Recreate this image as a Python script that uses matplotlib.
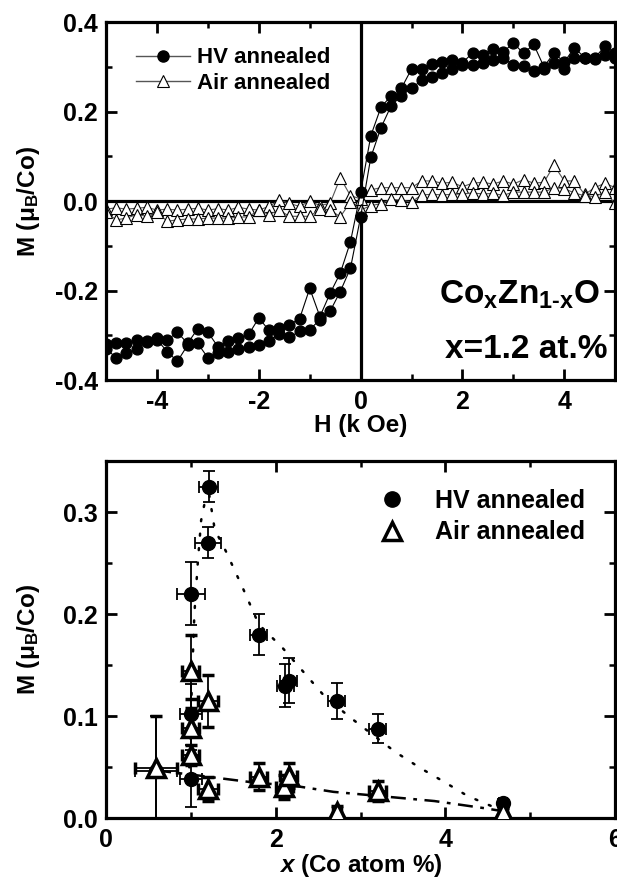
import numpy as np
import matplotlib
matplotlib.use("Agg")
from matplotlib import pyplot as plt
from matplotlib.ticker import MultipleLocator, FormatStrFormatter

# --- top panel: M(H) loops, x = 1.2 at.% ---
H = [-5.0, -4.8, -4.6, -4.4, -4.2, -4.0, -3.8, -3.6, -3.4, -3.2, -3.0,
     -2.8, -2.6, -2.4, -2.2, -2.0, -1.8, -1.6, -1.4, -1.2, -1.0,
     -0.8, -0.6, -0.4, -0.2, 0.0, 0.2, 0.4, 0.6, 0.8, 1.0,
     1.2, 1.4, 1.6, 1.8, 2.0, 2.2, 2.4, 2.6, 2.8, 3.0,
     3.2, 3.4, 3.6, 3.8, 4.0, 4.2, 4.4, 4.6, 4.8, 5.0]

hv_up = [-0.320, -0.318, -0.316, -0.310, -0.313, -0.306, -0.310, -0.293, -0.318, -0.285, -0.293,
         -0.326, -0.313, -0.306, -0.298, -0.261, -0.289, -0.283, -0.276, -0.263, -0.195,
         -0.258, -0.206, -0.161, -0.091, 0.020, 0.146, 0.210, 0.235, 0.252, 0.295,
         0.295, 0.306, 0.310, 0.316, 0.309, 0.331, 0.327, 0.339, 0.333, 0.353,
         0.330, 0.350, 0.300, 0.331, 0.310, 0.343, 0.320, 0.320, 0.346, 0.330]
hv_dn = [-0.330, -0.350, -0.340, -0.330, -0.315, -0.310, -0.336, -0.358, -0.322, -0.318, -0.350,
         -0.340, -0.336, -0.330, -0.327, -0.322, -0.313, -0.296, -0.304, -0.291, -0.287,
         -0.265, -0.246, -0.202, -0.150, -0.035, 0.098, 0.164, 0.213, 0.235, 0.252,
         0.270, 0.278, 0.287, 0.295, 0.304, 0.305, 0.309, 0.315, 0.319, 0.305,
         0.302, 0.291, 0.296, 0.309, 0.296, 0.319, 0.320, 0.318, 0.326, 0.320]

air_up = [-0.018, -0.015, -0.018, -0.016, -0.014, -0.020, -0.018, -0.020, -0.018, -0.016, -0.020,
          -0.017, -0.020, -0.014, -0.018, -0.020, -0.012, 0.002, -0.005, -0.012, 0.000,
          -0.010, -0.005, 0.052, 0.012, 0.005, 0.025, 0.030, 0.030, 0.030, 0.030,
          0.045, 0.045, 0.040, 0.042, 0.032, 0.040, 0.042, 0.038, 0.045, 0.038,
          0.048, 0.040, 0.042, 0.080, 0.045, 0.045, 0.015, 0.030, 0.040, 0.030]
air_dn = [-0.025, -0.042, -0.038, -0.030, -0.034, -0.025, -0.045, -0.042, -0.040, -0.040, -0.038,
          -0.038, -0.038, -0.036, -0.035, -0.020, -0.030, -0.020, -0.034, -0.034, -0.034,
          -0.018, -0.020, -0.035, -0.002, -0.020, -0.010, -0.006, 0.004, 0.002, -0.002,
          0.014, 0.015, 0.014, 0.015, 0.016, 0.018, 0.016, 0.017, 0.013, 0.020,
          0.020, 0.020, 0.020, 0.030, 0.028, 0.018, 0.012, 0.010, 0.020, -0.005]

# --- bottom panel: M vs Co content ---
hv_x = [0.59, 1.00, 1.00, 1.00, 1.20, 1.21, 1.80, 2.11, 2.15, 2.72, 3.20, 4.68]
hv_m = [0.046, 0.039, 0.102, 0.220, 0.270, 0.325, 0.180, 0.130, 0.135, 0.115, 0.088, 0.015]
hv_xerr = [0.25, 0.13, 0.13, 0.16, 0.15, 0.11, 0.10, 0.10, 0.10, 0.10, 0.10, 0.05]
hv_merr = [0.054, 0.028, 0.030, 0.031, 0.015, 0.015, 0.020, 0.021, 0.022, 0.018, 0.014, 0.004]

air_x = [0.59, 1.00, 1.00, 1.00, 1.20, 1.20, 1.80, 2.10, 2.15, 2.72, 3.20, 4.68]
air_m = [0.049, 0.144, 0.089, 0.062, 0.115, 0.029, 0.041, 0.031, 0.042, 0.006, 0.027, 0.006]
air_xerr = [0.25, 0.10, 0.10, 0.10, 0.12, 0.12, 0.10, 0.10, 0.10, 0.05, 0.10, 0.05]
air_merr = [0.051, 0.036, 0.028, 0.010, 0.025, 0.012, 0.013, 0.012, 0.012, 0.006, 0.010, 0.004]

# guide lines
hv_guide_x = [0.98, 1.01, 1.04, 1.08, 1.12, 1.20, 1.28, 1.41, 1.62, 1.80, 2.08,
              2.31, 2.56, 2.86, 3.00, 3.41, 3.71, 3.98, 4.26, 4.60]
hv_guide_m = [0.05, 0.13, 0.20, 0.25, 0.292, 0.325, 0.283, 0.262, 0.224, 0.19, 0.167,
              0.145, 0.121, 0.100, 0.091, 0.065, 0.049, 0.036, 0.022, 0.010]
air_guide_x = [0.59, 1.09, 1.66, 2.29, 2.68, 3.21, 3.87, 4.46, 4.68]
air_guide_m = [0.047, 0.042, 0.036, 0.031, 0.026, 0.022, 0.017, 0.010, 0.007]

plt.rcParams['font.family'] = ['Liberation Sans', 'DejaVu Sans']
plt.rcParams['font.weight'] = 'bold'
plt.rcParams['axes.unicode_minus'] = False
plt.rcParams['mathtext.fontset'] = 'custom'
plt.rcParams['mathtext.rm'] = 'Liberation Sans:bold'
plt.rcParams['mathtext.it'] = 'Liberation Sans:italic:bold'
plt.rcParams['mathtext.bf'] = 'Liberation Sans:bold'
plt.rcParams['mathtext.default'] = 'rm'

TICK_FS = 18
LABEL_FS = 17.5


def style_axes(ax):
    for sp in ax.spines.values():
        sp.set_linewidth(2.3)
    ax.tick_params(which='both', direction='in', top=True, right=True,
                   labelsize=TICK_FS)
    ax.tick_params(which='major', length=8, width=2)
    ax.tick_params(which='minor', length=4.5, width=1.8)
    ax.tick_params(axis='x', which='major', pad=7)
    ax.tick_params(axis='y', which='major', pad=6)
    for lab in ax.get_xticklabels() + ax.get_yticklabels():
        lab.set_fontweight('bold')


fig = plt.figure(figsize=(6.17, 8.8), dpi=100)

# top panel
ax1 = fig.add_axes([0.172, 0.568, 0.825, 0.407])
ax1.axhline(0, color='black', lw=2.3, zorder=1)
ax1.axvline(0, color='black', lw=2.3, zorder=1)
for m in (hv_up, hv_dn):
    ax1.plot(H, m, '-', color='black', lw=0.8, marker='o', ms=7.8,
             mfc='black', mec='black', zorder=3)
for m in (air_up, air_dn):
    ax1.plot(H, m, '-', color='#555555', lw=0.8, marker='^', ms=8.5,
             mfc='white', mec='black', mew=0.8, zorder=2)
h1, = ax1.plot([], [], '-', color='#555555', lw=1, marker='o', ms=8,
               mfc='black', mec='black')
h2, = ax1.plot([], [], '-', color='#555555', lw=1, marker='^', ms=8.5,
               mfc='white', mec='black', mew=0.8)
ax1.legend([h1, h2], ['HV annealed', 'Air annealed'], loc='upper left',
           bbox_to_anchor=(0.02, 0.985), frameon=False, fontsize=16,
           handlelength=2.4, handletextpad=0.35, labelspacing=0.2)
ax1.set_xlim(-5, 5)
ax1.set_ylim(-0.4, 0.4)
ax1.xaxis.set_major_locator(MultipleLocator(2))
ax1.xaxis.set_minor_locator(MultipleLocator(1))
ax1.yaxis.set_major_locator(MultipleLocator(0.2))
ax1.yaxis.set_minor_locator(MultipleLocator(0.1))
ax1.yaxis.set_major_formatter(FormatStrFormatter('%.1f'))
style_axes(ax1)
ax1.set_xlabel('H (k Oe)', fontsize=LABEL_FS, fontweight='bold')
ax1.set_ylabel(r'M ($\mu_{B}$/Co)', fontsize=LABEL_FS, fontweight='bold')
ax1.xaxis.set_label_coords(0.5, -0.095)
ax1.yaxis.set_label_coords(-0.125, 0.5)
ax1.text(0.97, 0.215, r'$Co_{x}Zn_{1\text{-}x}O$', transform=ax1.transAxes,
         ha='right', va='baseline', fontsize=24)
ax1.text(0.985, 0.062, 'x=1.2 at.%', transform=ax1.transAxes,
         ha='right', va='baseline', fontsize=24, fontweight='bold')

# bottom panel
ax2 = fig.add_axes([0.172, 0.070, 0.825, 0.406])
ax2.plot(hv_guide_x, hv_guide_m, color='black', lw=1.8,
         linestyle=(0, (0.8, 5)), dash_capstyle='round', zorder=1)
ax2.plot(air_guide_x, air_guide_m, color='black', lw=1.8,
         linestyle=(0, (6, 3, 1.5, 3)), zorder=1)
ax2.errorbar(hv_x, hv_m, xerr=hv_xerr, yerr=hv_merr, fmt='o', ms=10,
             mfc='black', mec='black', ecolor='black', elinewidth=1.3,
             capsize=4, capthick=1.3, zorder=3, label='HV annealed')
ax2.errorbar(air_x, air_m, xerr=air_xerr, yerr=air_merr, fmt='^', ms=13,
             mfc='white', mec='black', mew=2.5, ecolor='black', elinewidth=1.3,
             capsize=4, capthick=1.3, zorder=4, label='Air annealed')
lh1, = ax2.plot([], [], 'o', ms=11, mfc='black', mec='black')
lh2, = ax2.plot([], [], '^', ms=13, mfc='white', mec='black', mew=2.5)
ax2.legend([lh1, lh2], ['HV annealed', 'Air annealed'], loc='upper right',
           bbox_to_anchor=(0.985, 0.985), frameon=False, fontsize=18,
           handletextpad=0.7, labelspacing=0.3)
ax2.set_xlim(0, 6)
ax2.set_ylim(0, 0.35)
ax2.xaxis.set_major_locator(MultipleLocator(2))
ax2.xaxis.set_minor_locator(MultipleLocator(1))
ax2.yaxis.set_major_locator(MultipleLocator(0.1))
ax2.yaxis.set_minor_locator(MultipleLocator(0.05))
ax2.yaxis.set_major_formatter(FormatStrFormatter('%.1f'))
style_axes(ax2)
ax2.set_xlabel(r'$\mathit{x}$ (Co atom %)', fontsize=LABEL_FS, fontweight='bold')
ax2.set_ylabel(r'M ($\mu_{B}$/Co)', fontsize=LABEL_FS, fontweight='bold')
ax2.xaxis.set_label_coords(0.5, -0.093)
ax2.yaxis.set_label_coords(-0.125, 0.5)

fig.savefig('out.png', dpi=100)
